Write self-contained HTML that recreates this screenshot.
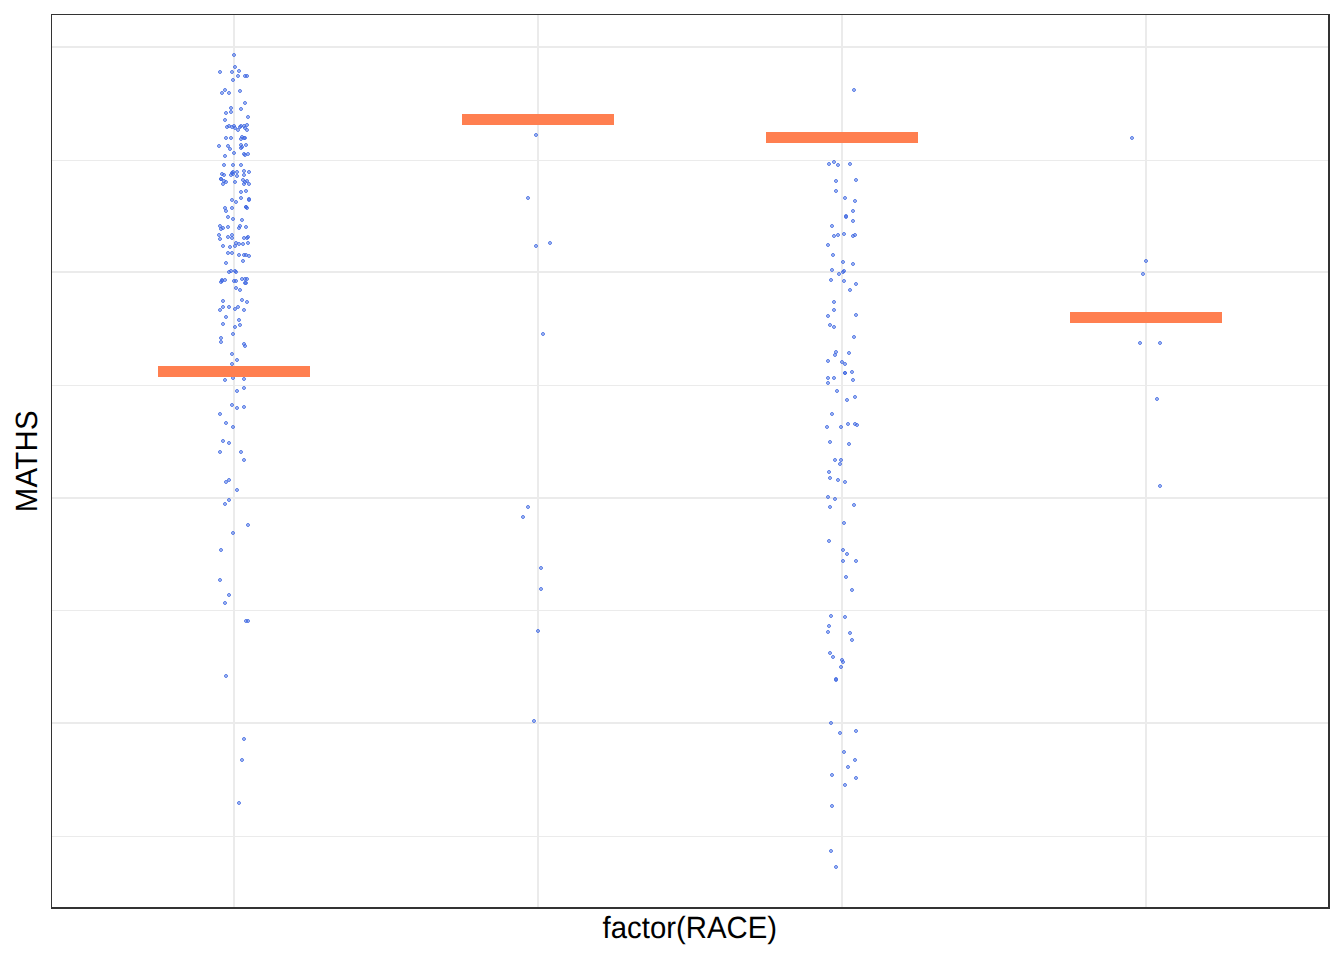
<!DOCTYPE html>
<html><head><meta charset="utf-8"><title>MATHS by factor(RACE)</title>
<style>html,body{margin:0;padding:0;background:#fff;}body{width:1344px;height:960px;overflow:hidden;font-family:"Liberation Sans",sans-serif;}svg{display:block;}text{font-family:"Liberation Sans",sans-serif;font-size:29.33px;fill:#000;text-rendering:geometricPrecision;}.d circle{fill:rgba(65,105,225,0.34);stroke:#4169E1;stroke-width:0.9;}</style>
</head><body>
<svg width="1344" height="960" viewBox="0 0 1344 960">
<rect x="0" y="0" width="1344" height="960" fill="#ffffff"/>
<g shape-rendering="crispEdges" fill="#ebebeb">
<rect x="52" y="160" width="1276" height="1"/>
<rect x="52" y="385" width="1276" height="1"/>
<rect x="52" y="610" width="1276" height="1"/>
<rect x="52" y="836" width="1276" height="1"/>
<rect x="52" y="46" width="1276" height="2"/>
<rect x="52" y="271" width="1276" height="2"/>
<rect x="52" y="497" width="1276" height="2"/>
<rect x="52" y="722" width="1276" height="2"/>
<rect x="233" y="15" width="2" height="892"/>
<rect x="537" y="15" width="2" height="892"/>
<rect x="841" y="15" width="2" height="892"/>
<rect x="1145" y="15" width="2" height="892"/>
</g>
<g class="d">
<circle cx="234" cy="55" r="1.47"/>
<circle cx="235" cy="67" r="1.47"/>
<circle cx="220" cy="72" r="1.47"/>
<circle cx="232" cy="72" r="1.47"/>
<circle cx="239" cy="71" r="1.47"/>
<circle cx="238" cy="76" r="1.47"/>
<circle cx="245" cy="76" r="1.47"/>
<circle cx="247" cy="76" r="1.47"/>
<circle cx="233" cy="80" r="1.47"/>
<circle cx="225" cy="90" r="1.47"/>
<circle cx="222" cy="93" r="1.47"/>
<circle cx="229" cy="93" r="1.47"/>
<circle cx="240" cy="91" r="1.47"/>
<circle cx="245" cy="103" r="1.47"/>
<circle cx="231" cy="108" r="1.47"/>
<circle cx="241" cy="109" r="1.47"/>
<circle cx="231" cy="112" r="1.47"/>
<circle cx="226" cy="113" r="1.47"/>
<circle cx="248" cy="117" r="1.47"/>
<circle cx="225" cy="120" r="1.47"/>
<circle cx="247" cy="125" r="1.47"/>
<circle cx="229" cy="126" r="1.47"/>
<circle cx="227" cy="127" r="1.47"/>
<circle cx="234" cy="126" r="1.47"/>
<circle cx="232" cy="127" r="1.47"/>
<circle cx="235" cy="128" r="1.47"/>
<circle cx="238" cy="130" r="1.47"/>
<circle cx="241" cy="126" r="1.47"/>
<circle cx="240" cy="127" r="1.47"/>
<circle cx="244" cy="126" r="1.47"/>
<circle cx="245" cy="128" r="1.47"/>
<circle cx="247" cy="130" r="1.47"/>
<circle cx="226" cy="138" r="1.47"/>
<circle cx="231" cy="138" r="1.47"/>
<circle cx="242" cy="137" r="1.47"/>
<circle cx="241" cy="139" r="1.47"/>
<circle cx="244" cy="138" r="1.47"/>
<circle cx="245" cy="138" r="1.47"/>
<circle cx="219" cy="146" r="1.47"/>
<circle cx="228" cy="146" r="1.47"/>
<circle cx="230" cy="149" r="1.47"/>
<circle cx="241" cy="145" r="1.47"/>
<circle cx="246" cy="145" r="1.47"/>
<circle cx="241" cy="148" r="1.47"/>
<circle cx="242" cy="147" r="1.47"/>
<circle cx="234" cy="153" r="1.47"/>
<circle cx="225" cy="156" r="1.47"/>
<circle cx="244" cy="154" r="1.47"/>
<circle cx="245" cy="155" r="1.47"/>
<circle cx="248" cy="154" r="1.47"/>
<circle cx="224" cy="165" r="1.47"/>
<circle cx="233" cy="165" r="1.47"/>
<circle cx="241" cy="165" r="1.47"/>
<circle cx="244" cy="171" r="1.47"/>
<circle cx="249" cy="172" r="1.47"/>
<circle cx="237" cy="172" r="1.47"/>
<circle cx="233" cy="172" r="1.47"/>
<circle cx="232" cy="173" r="1.47"/>
<circle cx="231" cy="175" r="1.47"/>
<circle cx="237" cy="176" r="1.47"/>
<circle cx="244" cy="175" r="1.47"/>
<circle cx="222" cy="174" r="1.47"/>
<circle cx="224" cy="175" r="1.47"/>
<circle cx="221" cy="179" r="1.47"/>
<circle cx="221" cy="179" r="1.47"/>
<circle cx="224" cy="181" r="1.47"/>
<circle cx="226" cy="182" r="1.47"/>
<circle cx="223" cy="184" r="1.47"/>
<circle cx="235" cy="182" r="1.47"/>
<circle cx="243" cy="180" r="1.47"/>
<circle cx="244" cy="184" r="1.47"/>
<circle cx="247" cy="181" r="1.47"/>
<circle cx="249" cy="184" r="1.47"/>
<circle cx="245" cy="182" r="1.47"/>
<circle cx="241" cy="192" r="1.47"/>
<circle cx="246" cy="191" r="1.47"/>
<circle cx="241" cy="198" r="1.47"/>
<circle cx="249" cy="199" r="1.47"/>
<circle cx="249" cy="200" r="1.47"/>
<circle cx="232" cy="200" r="1.47"/>
<circle cx="236" cy="202" r="1.47"/>
<circle cx="225" cy="208" r="1.47"/>
<circle cx="232" cy="208" r="1.47"/>
<circle cx="226" cy="211" r="1.47"/>
<circle cx="246" cy="207" r="1.47"/>
<circle cx="247" cy="208" r="1.47"/>
<circle cx="228" cy="217" r="1.47"/>
<circle cx="233" cy="219" r="1.47"/>
<circle cx="242" cy="220" r="1.47"/>
<circle cx="220" cy="226" r="1.47"/>
<circle cx="223" cy="228" r="1.47"/>
<circle cx="221" cy="229" r="1.47"/>
<circle cx="228" cy="227" r="1.47"/>
<circle cx="240" cy="226" r="1.47"/>
<circle cx="239" cy="228" r="1.47"/>
<circle cx="246" cy="227" r="1.47"/>
<circle cx="219" cy="235" r="1.47"/>
<circle cx="220" cy="239" r="1.47"/>
<circle cx="228" cy="237" r="1.47"/>
<circle cx="232" cy="235" r="1.47"/>
<circle cx="232" cy="238" r="1.47"/>
<circle cx="244" cy="238" r="1.47"/>
<circle cx="248" cy="237" r="1.47"/>
<circle cx="247" cy="238" r="1.47"/>
<circle cx="236" cy="243" r="1.47"/>
<circle cx="239" cy="244" r="1.47"/>
<circle cx="243" cy="244" r="1.47"/>
<circle cx="248" cy="243" r="1.47"/>
<circle cx="235" cy="246" r="1.47"/>
<circle cx="223" cy="246" r="1.47"/>
<circle cx="230" cy="247" r="1.47"/>
<circle cx="228" cy="253" r="1.47"/>
<circle cx="232" cy="253" r="1.47"/>
<circle cx="239" cy="255" r="1.47"/>
<circle cx="244" cy="255" r="1.47"/>
<circle cx="246" cy="255" r="1.47"/>
<circle cx="249" cy="256" r="1.47"/>
<circle cx="243" cy="261" r="1.47"/>
<circle cx="226" cy="263" r="1.47"/>
<circle cx="229" cy="272" r="1.47"/>
<circle cx="231" cy="271" r="1.47"/>
<circle cx="235" cy="271" r="1.47"/>
<circle cx="236" cy="272" r="1.47"/>
<circle cx="222" cy="280" r="1.47"/>
<circle cx="221" cy="282" r="1.47"/>
<circle cx="225" cy="280" r="1.47"/>
<circle cx="234" cy="281" r="1.47"/>
<circle cx="236" cy="281" r="1.47"/>
<circle cx="242" cy="279" r="1.47"/>
<circle cx="245" cy="279" r="1.47"/>
<circle cx="247" cy="279" r="1.47"/>
<circle cx="245" cy="283" r="1.47"/>
<circle cx="246" cy="283" r="1.47"/>
<circle cx="236" cy="288" r="1.47"/>
<circle cx="240" cy="290" r="1.47"/>
<circle cx="223" cy="301" r="1.47"/>
<circle cx="242" cy="300" r="1.47"/>
<circle cx="247" cy="302" r="1.47"/>
<circle cx="223" cy="307" r="1.47"/>
<circle cx="220" cy="310" r="1.47"/>
<circle cx="229" cy="307" r="1.47"/>
<circle cx="238" cy="307" r="1.47"/>
<circle cx="235" cy="309" r="1.47"/>
<circle cx="244" cy="310" r="1.47"/>
<circle cx="226" cy="317" r="1.47"/>
<circle cx="239" cy="320" r="1.47"/>
<circle cx="223" cy="324" r="1.47"/>
<circle cx="240" cy="325" r="1.47"/>
<circle cx="235" cy="327" r="1.47"/>
<circle cx="233" cy="334" r="1.47"/>
<circle cx="221" cy="338" r="1.47"/>
<circle cx="221" cy="342" r="1.47"/>
<circle cx="244" cy="344" r="1.47"/>
<circle cx="245" cy="346" r="1.47"/>
<circle cx="232" cy="354" r="1.47"/>
<circle cx="237" cy="360" r="1.47"/>
<circle cx="232" cy="364" r="1.47"/>
<circle cx="225" cy="380" r="1.47"/>
<circle cx="233" cy="378" r="1.47"/>
<circle cx="244" cy="379" r="1.47"/>
<circle cx="244" cy="388" r="1.47"/>
<circle cx="237" cy="391" r="1.47"/>
<circle cx="232" cy="405" r="1.47"/>
<circle cx="237" cy="408" r="1.47"/>
<circle cx="244" cy="407" r="1.47"/>
<circle cx="220" cy="414" r="1.47"/>
<circle cx="226" cy="423" r="1.47"/>
<circle cx="233" cy="427" r="1.47"/>
<circle cx="223" cy="441" r="1.47"/>
<circle cx="229" cy="443" r="1.47"/>
<circle cx="220" cy="452" r="1.47"/>
<circle cx="241" cy="452" r="1.47"/>
<circle cx="244" cy="460" r="1.47"/>
<circle cx="229" cy="480" r="1.47"/>
<circle cx="226" cy="482" r="1.47"/>
<circle cx="237" cy="490" r="1.47"/>
<circle cx="229" cy="500" r="1.47"/>
<circle cx="225" cy="504" r="1.47"/>
<circle cx="248" cy="525" r="1.47"/>
<circle cx="233" cy="533" r="1.47"/>
<circle cx="221" cy="550" r="1.47"/>
<circle cx="220" cy="580" r="1.47"/>
<circle cx="229" cy="595" r="1.47"/>
<circle cx="225" cy="603" r="1.47"/>
<circle cx="246" cy="621" r="1.47"/>
<circle cx="248" cy="621" r="1.47"/>
<circle cx="226" cy="676" r="1.47"/>
<circle cx="244" cy="739" r="1.47"/>
<circle cx="242" cy="760" r="1.47"/>
<circle cx="239" cy="803" r="1.47"/>
<circle cx="233" cy="174" r="1.47"/>
<circle cx="246" cy="207" r="1.47"/>
<circle cx="222" cy="281" r="1.47"/>
<circle cx="536" cy="135" r="1.47"/>
<circle cx="528" cy="198" r="1.47"/>
<circle cx="536" cy="246" r="1.47"/>
<circle cx="550" cy="243" r="1.47"/>
<circle cx="543" cy="334" r="1.47"/>
<circle cx="528" cy="507" r="1.47"/>
<circle cx="523" cy="517" r="1.47"/>
<circle cx="541" cy="568" r="1.47"/>
<circle cx="541" cy="589" r="1.47"/>
<circle cx="538" cy="631" r="1.47"/>
<circle cx="534" cy="721" r="1.47"/>
<circle cx="1132" cy="138" r="1.47"/>
<circle cx="1146" cy="261" r="1.47"/>
<circle cx="1143" cy="274" r="1.47"/>
<circle cx="1140" cy="343" r="1.47"/>
<circle cx="1160" cy="343" r="1.47"/>
<circle cx="1157" cy="399" r="1.47"/>
<circle cx="1160" cy="486" r="1.47"/>
<circle cx="854" cy="90" r="1.47"/>
<circle cx="829" cy="164" r="1.47"/>
<circle cx="834" cy="162" r="1.47"/>
<circle cx="838" cy="165" r="1.47"/>
<circle cx="850" cy="164" r="1.47"/>
<circle cx="836" cy="181" r="1.47"/>
<circle cx="856" cy="180" r="1.47"/>
<circle cx="836" cy="191" r="1.47"/>
<circle cx="845" cy="198" r="1.47"/>
<circle cx="855" cy="201" r="1.47"/>
<circle cx="853" cy="211" r="1.47"/>
<circle cx="846" cy="216" r="1.47"/>
<circle cx="846" cy="217" r="1.47"/>
<circle cx="853" cy="221" r="1.47"/>
<circle cx="832" cy="226" r="1.47"/>
<circle cx="844" cy="234" r="1.47"/>
<circle cx="838" cy="235" r="1.47"/>
<circle cx="834" cy="236" r="1.47"/>
<circle cx="853" cy="236" r="1.47"/>
<circle cx="855" cy="235" r="1.47"/>
<circle cx="828" cy="245" r="1.47"/>
<circle cx="833" cy="255" r="1.47"/>
<circle cx="843" cy="262" r="1.47"/>
<circle cx="853" cy="264" r="1.47"/>
<circle cx="832" cy="270" r="1.47"/>
<circle cx="844" cy="271" r="1.47"/>
<circle cx="843" cy="272" r="1.47"/>
<circle cx="839" cy="274" r="1.47"/>
<circle cx="831" cy="280" r="1.47"/>
<circle cx="844" cy="281" r="1.47"/>
<circle cx="856" cy="284" r="1.47"/>
<circle cx="850" cy="290" r="1.47"/>
<circle cx="834" cy="302" r="1.47"/>
<circle cx="834" cy="310" r="1.47"/>
<circle cx="828" cy="316" r="1.47"/>
<circle cx="856" cy="315" r="1.47"/>
<circle cx="830" cy="325" r="1.47"/>
<circle cx="834" cy="327" r="1.47"/>
<circle cx="854" cy="337" r="1.47"/>
<circle cx="836" cy="352" r="1.47"/>
<circle cx="835" cy="355" r="1.47"/>
<circle cx="849" cy="353" r="1.47"/>
<circle cx="828" cy="361" r="1.47"/>
<circle cx="842" cy="362" r="1.47"/>
<circle cx="845" cy="364" r="1.47"/>
<circle cx="845" cy="373" r="1.47"/>
<circle cx="845" cy="373" r="1.47"/>
<circle cx="852" cy="372" r="1.47"/>
<circle cx="828" cy="378" r="1.47"/>
<circle cx="834" cy="378" r="1.47"/>
<circle cx="828" cy="383" r="1.47"/>
<circle cx="853" cy="380" r="1.47"/>
<circle cx="837" cy="391" r="1.47"/>
<circle cx="855" cy="397" r="1.47"/>
<circle cx="847" cy="400" r="1.47"/>
<circle cx="832" cy="414" r="1.47"/>
<circle cx="848" cy="424" r="1.47"/>
<circle cx="855" cy="424" r="1.47"/>
<circle cx="857" cy="425" r="1.47"/>
<circle cx="827" cy="427" r="1.47"/>
<circle cx="841" cy="427" r="1.47"/>
<circle cx="830" cy="442" r="1.47"/>
<circle cx="849" cy="444" r="1.47"/>
<circle cx="835" cy="460" r="1.47"/>
<circle cx="841" cy="460" r="1.47"/>
<circle cx="840" cy="464" r="1.47"/>
<circle cx="829" cy="472" r="1.47"/>
<circle cx="830" cy="478" r="1.47"/>
<circle cx="838" cy="480" r="1.47"/>
<circle cx="845" cy="482" r="1.47"/>
<circle cx="828" cy="497" r="1.47"/>
<circle cx="835" cy="499" r="1.47"/>
<circle cx="830" cy="507" r="1.47"/>
<circle cx="854" cy="505" r="1.47"/>
<circle cx="844" cy="523" r="1.47"/>
<circle cx="829" cy="541" r="1.47"/>
<circle cx="843" cy="550" r="1.47"/>
<circle cx="847" cy="554" r="1.47"/>
<circle cx="843" cy="561" r="1.47"/>
<circle cx="856" cy="561" r="1.47"/>
<circle cx="846" cy="577" r="1.47"/>
<circle cx="852" cy="590" r="1.47"/>
<circle cx="831" cy="616" r="1.47"/>
<circle cx="845" cy="617" r="1.47"/>
<circle cx="829" cy="626" r="1.47"/>
<circle cx="828" cy="632" r="1.47"/>
<circle cx="850" cy="633" r="1.47"/>
<circle cx="852" cy="640" r="1.47"/>
<circle cx="830" cy="653" r="1.47"/>
<circle cx="833" cy="657" r="1.47"/>
<circle cx="842" cy="660" r="1.47"/>
<circle cx="843" cy="662" r="1.47"/>
<circle cx="841" cy="667" r="1.47"/>
<circle cx="836" cy="679" r="1.47"/>
<circle cx="836" cy="680" r="1.47"/>
<circle cx="831" cy="723" r="1.47"/>
<circle cx="840" cy="733" r="1.47"/>
<circle cx="856" cy="731" r="1.47"/>
<circle cx="844" cy="752" r="1.47"/>
<circle cx="855" cy="760" r="1.47"/>
<circle cx="848" cy="767" r="1.47"/>
<circle cx="832" cy="775" r="1.47"/>
<circle cx="856" cy="778" r="1.47"/>
<circle cx="845" cy="785" r="1.47"/>
<circle cx="832" cy="806" r="1.47"/>
<circle cx="831" cy="851" r="1.47"/>
<circle cx="836" cy="867" r="1.47"/>
</g>
<g shape-rendering="crispEdges" fill="#FF7F50">
<rect x="158" y="366" width="152" height="11"/>
<rect x="462" y="114" width="152" height="11"/>
<rect x="766" y="132" width="152" height="11"/>
<rect x="1070" y="312" width="152" height="11"/>
</g>
<g shape-rendering="crispEdges">
<rect x="51" y="14" width="1" height="895" fill="#333333"/>
<rect x="51" y="14" width="1279" height="1" fill="#333333"/>
<rect x="1328" y="14" width="2" height="895" fill="#333333"/>
<rect x="51" y="907" width="1279" height="2" fill="#333333"/>
</g>
<text transform="translate(689.8,938) scale(1,1.048)" text-anchor="middle">factor(RACE)</text>
<text transform="translate(36.9,461.2) rotate(-90) scale(1,1.048)" text-anchor="middle" letter-spacing="0.36">MATHS</text>
</svg></body></html>
